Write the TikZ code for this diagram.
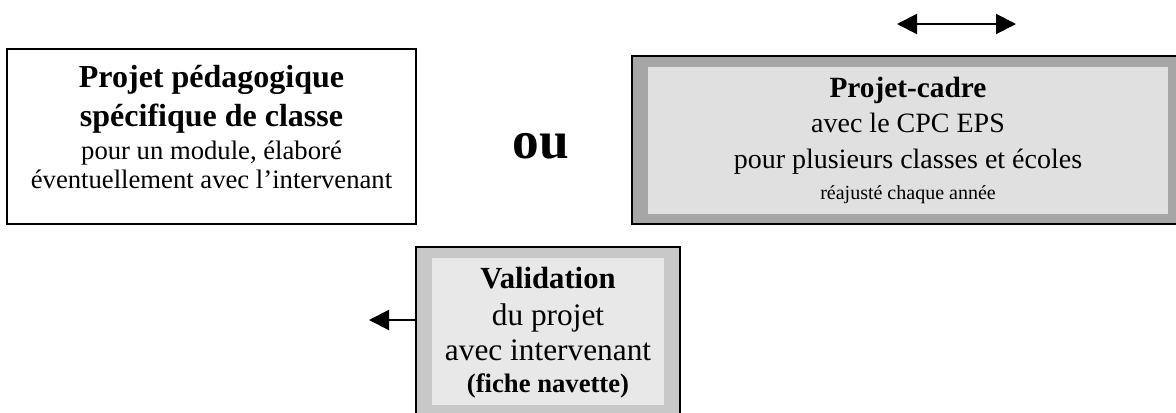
\documentclass[tikz,border=0pt]{standalone}
\usepackage{fontspec}
\setmainfont{Liberation Serif}
\usetikzlibrary{arrows.meta}
\definecolor{darkshade}{HTML}{A6A6A6}
\definecolor{lightfill}{HTML}{E0E0E0}
\definecolor{valshade}{HTML}{C8C8C8}
\definecolor{valfill}{HTML}{E8E8E8}
\begin{document}
\begin{tikzpicture}[x=0.75pt,y=-0.75pt,
  frame/.style={draw=black, line width=1.5pt, inner sep=0pt, outer sep=0pt},
  pane/.style={inner sep=0pt, outer sep=0pt},
  txt/.style={anchor=base, inner sep=0pt, align=center},
  bigb/.style={font=\fontsize{24}{28}\selectfont\bfseries},
  midb/.style={font=\fontsize{22}{26}\selectfont\bfseries},
  valb/.style={font=\fontsize{23}{27}\selectfont\bfseries},
  smlb/.style={font=\fontsize{20}{24}\selectfont\bfseries},
  norm/.style={font=\fontsize{20}{24}\selectfont},
  normr/.style={font=\fontsize{21}{25}\selectfont},
  normv/.style={font=\fontsize{23.5}{27}\selectfont},
  tiny/.style={font=\fontsize{15}{18}\selectfont},
  conn/.style={line width=1.5pt, -{Triangle[length=15pt,width=15pt]}},
  conn2/.style={line width=1.5pt, {Triangle[length=15pt,width=15pt]}-{Triangle[length=15pt,width=15pt]}}]
\useasboundingbox (0,0) rectangle (1176,412);
\clip (0,0) rectangle (1176,412);

% left box
\node[frame, fill=white, minimum width=306.75pt, minimum height=131.25pt] (ped) at (211.5,136.5) {};
\node[txt, bigb] (ped1) at (211.5,87) {Projet pédagogique};
\node[txt, bigb] (ped2) at (211.5,126) {spécifique de classe};
\node[txt, norm] (ped3) at (211.5,159) {pour un module, élaboré};
\node[txt, norm] (ped4) at (211.5,188) {éventuellement avec l’intervenant};

% ou
\node[txt, font=\fontsize{40}{44}\selectfont\bfseries] (ou) at (541,158) {ou};

% right box
\node[frame, fill=darkshade, minimum width=414.75pt, minimum height=126pt] (cadre) at (908.5,140) {};
\node[pane, fill=lightfill, minimum width=390pt, minimum height=110.25pt] (cadrein) at (908,140.5) {};
\node[txt, midb] (cad1) at (908,97) {Projet-cadre};
\node[txt, normr] (cad2) at (908,132) {avec le CPC EPS};
\node[txt, normr] (cad3) at (908,168) {pour plusieurs classes et écoles};
\node[txt, tiny] (cad4) at (908,199) {réajusté chaque année};

% double arrow
\coordinate (dl) at (897,24);
\coordinate (dr) at (1016,24);
\draw[conn2] (dl) -- (dr);

% validation box
\node[frame, fill=valshade, minimum width=198pt, minimum height=133.5pt] (val) at (548,336) {};
\node[pane, fill=valfill, minimum width=174pt, minimum height=110.25pt] (valin) at (548,331.5) {};
\node[txt, valb] (val1) at (548,288) {Validation};
\node[txt, normv] (val2) at (548,325) {du projet};
\node[txt, normv] (val3) at (548,360) {avec intervenant};
\node[txt, smlb] (val4) at (548,392) {(fiche navette)};

% left arrow
\coordinate (vend) at (369,320);
\draw[conn] (vend -| val.west) -- (vend);
\end{tikzpicture}
\end{document}
